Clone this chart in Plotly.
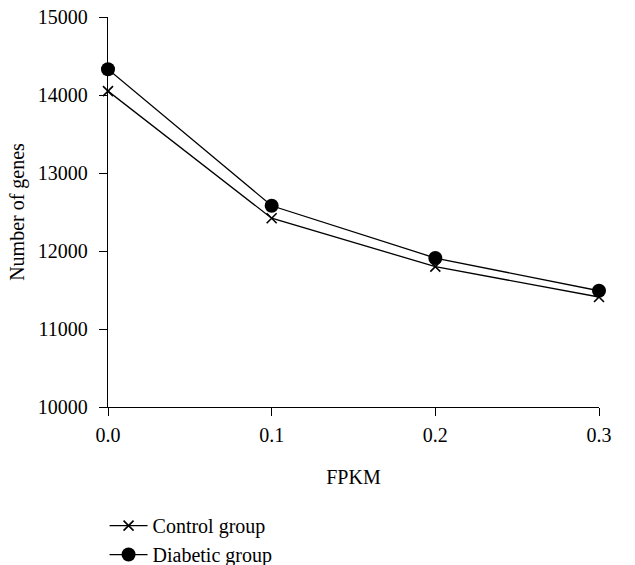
import plotly.graph_objects as go

fpkm = [0.0, 0.1, 0.2, 0.3]
control_group = [14050, 12420, 11800, 11410]
diabetic_group = [14330, 12580, 11910, 11490]
x_ticks = [0.0, 0.1, 0.2, 0.3]
x_tick_labels = ["0.0", "0.1", "0.2", "0.3"]
y_ticks = [10000, 11000, 12000, 13000, 14000, 15000]
y_tick_labels = ["10000", "11000", "12000", "13000", "14000", "15000"]

font_family = "Liberation Serif, DejaVu Serif, serif"
fs = 20

fig = go.Figure()
fig.add_trace(go.Scatter(
    x=fpkm, y=control_group, mode="lines+markers", name="Control group",
    line=dict(color="black", width=1.3),
    marker=dict(symbol="x-thin", size=10, color="black", line=dict(color="black", width=1.6)),
    cliponaxis=False,
))
fig.add_trace(go.Scatter(
    x=fpkm, y=diabetic_group, mode="lines+markers", name="Diabetic group",
    line=dict(color="black", width=1.3),
    marker=dict(symbol="circle", size=14, color="black"),
    cliponaxis=False,
))

fig.update_layout(
    width=635, height=565,
    margin=dict(l=108, r=36, t=17, b=158, autoexpand=False),
    paper_bgcolor="white", plot_bgcolor="white",
    font=dict(family=font_family, size=fs, color="black"),
    showlegend=True,
    legend=dict(x=-0.007, y=-0.254, xanchor="left", yanchor="top",
                font=dict(size=fs, family=font_family), bgcolor="rgba(0,0,0,0)",
                tracegroupgap=0, itemwidth=38),
    xaxis=dict(range=[0, 0.3], tickvals=x_ticks, ticktext=x_tick_labels,
               showline=True, linecolor="black", linewidth=1.3,
               ticks="outside", ticklen=8, tickwidth=1.3, tickcolor="black",
               showgrid=False, zeroline=False, automargin=False,
               ticklabelstandoff=2, ticklabeloverflow="allow",
               title=dict(text="FPKM", standoff=24, font=dict(size=fs)),
               tickfont=dict(size=fs)),
    yaxis=dict(range=[10000, 15000], tickvals=y_ticks, ticktext=y_tick_labels,
               showline=True, linecolor="black", linewidth=1.3,
               ticks="outside", ticklen=8, tickwidth=1.3, tickcolor="black",
               showgrid=False, zeroline=False, automargin=False,
               ticklabelstandoff=7, ticklabeloverflow="allow",
               title=dict(text="Number of genes", standoff=7, font=dict(size=fs)),
               tickfont=dict(size=fs)),
)

fig.write_html("out.html", config={"displayModeBar": False},
               post_script="document.body.style.margin='0';")
